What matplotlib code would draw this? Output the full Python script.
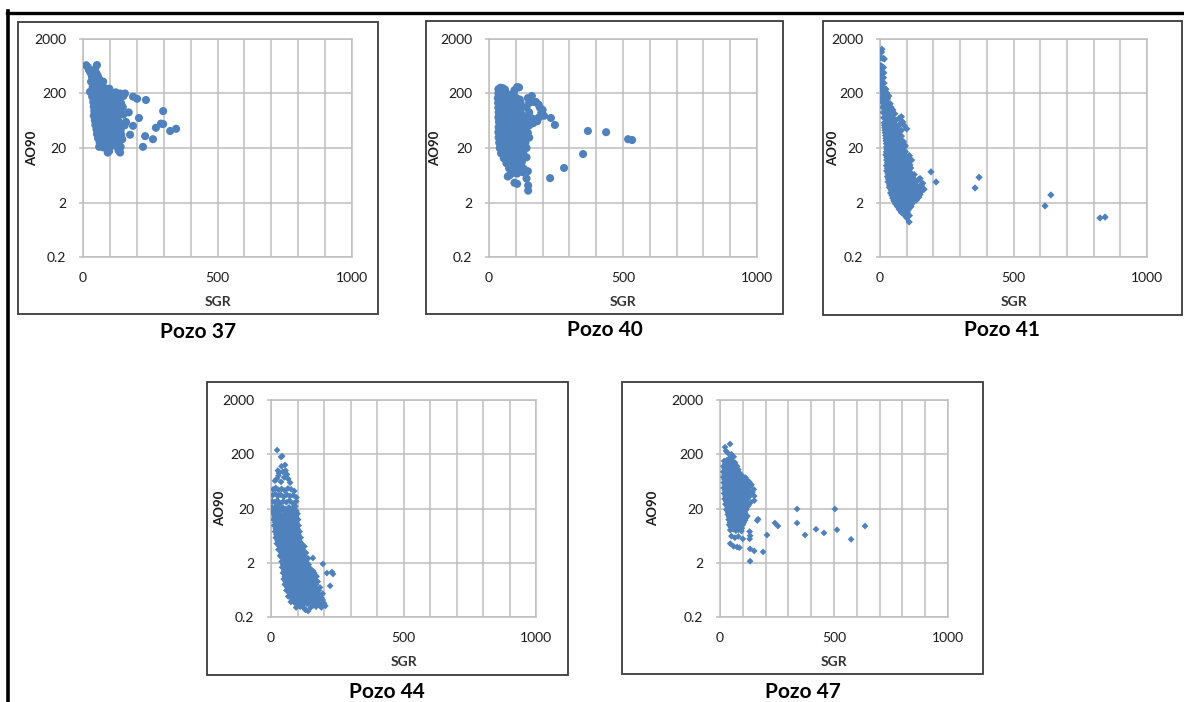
import numpy as np
import matplotlib
matplotlib.use("Agg")
import matplotlib.pyplot as plt
from matplotlib.patches import Rectangle
from matplotlib.lines import Line2D
from matplotlib.ticker import FixedLocator, FixedFormatter, NullLocator

plt.rcParams["font.family"] = ["Lato", "DejaVu Sans"]

# ------------------------------------------------------------
# Datos (SGR, AO90)
# ------------------------------------------------------------
pozo37 = [
    (12, 660), (18, 610), (52, 665), (22, 540), (28, 480), (45, 560), (50, 470),
    (33, 410), (42, 390), (55, 420), (60, 370),
    (30, 330), (40, 310), (52, 320), (64, 300), (75, 330),
    (36, 265), (50, 255), (66, 260), (82, 250), (98, 245),
    (26, 215), (38, 205), (55, 210), (72, 200), (90, 215), (108, 205), (122, 210), (138, 200),
    (34, 175), (50, 170), (67, 165), (84, 175), (102, 168), (118, 172), (135, 165), (150, 180),
    (38, 140), (55, 145), (72, 138), (90, 142), (108, 135), (126, 140), (142, 132),
    (40, 115), (58, 118), (76, 112), (94, 116), (112, 110), (130, 118), (148, 112),
    (42, 95), (60, 92), (78, 98), (96, 90), (114, 95), (132, 92),
    (40, 78), (58, 80), (76, 75), (94, 78), (112, 80), (130, 76), (150, 82),
    (44, 64), (62, 62), (80, 66), (98, 62), (116, 65), (134, 60),
    (46, 53), (64, 55), (82, 52), (100, 54), (118, 51), (136, 55), (155, 52),
    (50, 44), (68, 45), (86, 43), (104, 46), (122, 44), (140, 42),
    (52, 36), (70, 37), (88, 35), (106, 38), (124, 36), (142, 35),
    (56, 30), (74, 31), (92, 29), (110, 30), (128, 31), (146, 29),
    (62, 25), (80, 24), (98, 26), (116, 25), (134, 24),
    (60, 21), (75, 20.5), (100, 21), (120, 22), (140, 21),
    (92, 16.5), (97, 17.5), (138, 16.5), (132, 18),
    (156, 200), (186, 175), (201, 160), (234, 152), (298, 95), (208, 71),
    (186, 51), (298, 55), (290, 56), (271, 47), (324, 41), (346, 45),
    (231, 33), (260, 29), (223, 21), (175, 35), (160, 60), (170, 90),
]

pozo40 = [
    (35, 240), (42, 255), (52, 250), (60, 235), (105, 262), (112, 258), (95, 230),
    (35, 200), (48, 205), (62, 195), (78, 190), (92, 200),
    (33, 165), (46, 170), (60, 160), (74, 168), (88, 160), (102, 165), (115, 155), (145, 165),
    (34, 135), (48, 138), (62, 130), (76, 136), (90, 132), (104, 128), (118, 135),
    (150, 135), (165, 140), (185, 125),
    (35, 110), (48, 112), (62, 106), (76, 112), (90, 108), (104, 114), (118, 105),
    (140, 112), (190, 110), (200, 100),
    (36, 90), (50, 92), (64, 88), (78, 94), (92, 88), (106, 92), (120, 86), (150, 90), (195, 88),
    (35, 73), (49, 75), (63, 71), (77, 76), (91, 72), (105, 74), (119, 70),
    (145, 75), (160, 70), (185, 72), (205, 78),
    (37, 60), (51, 62), (65, 58), (79, 61), (93, 59), (107, 62), (121, 57),
    (140, 60), (165, 57), (180, 62),
    (36, 48), (50, 50), (64, 47), (78, 49), (92, 46), (106, 50), (120, 47), (134, 49), (150, 52),
    (35, 39), (49, 40), (63, 38), (77, 41), (91, 37), (105, 40), (119, 38), (133, 41), (145, 38),
    (36, 31), (50, 32), (64, 30), (78, 33), (92, 31), (106, 30), (120, 32), (134, 30), (150, 31),
    (38, 25), (52, 26), (66, 24), (80, 26), (94, 25), (108, 24), (122, 26), (136, 25),
    (40, 20), (54, 21), (68, 19.5), (82, 20), (96, 21), (110, 19), (124, 20), (140, 20),
    (45, 16), (58, 16.5), (72, 15.5), (86, 16), (100, 16.5), (114, 15.5), (128, 16),
    (55, 13), (70, 12.5), (84, 13), (98, 12.8), (112, 13), (126, 12.5), (140, 13.5),
    (65, 10.5), (80, 10), (94, 10.6), (108, 10.2), (122, 10.8),
    (75, 8.5), (90, 8.2), (104, 8.6), (118, 8.8), (130, 8.3),
    (90, 7), (105, 6.8), (125, 7.2), (145, 7.5),
    (78, 6.4), (95, 4.6), (105, 4.4), (146, 4.1), (146, 3.3), (140, 5.5), (70, 6.0),
    (160, 180), (175, 140), (231, 71), (246, 53), (369, 41), (437, 39),
    (519, 29), (534, 28), (351, 15.5), (280, 8.6), (228, 5.6),
]

pozo41 = [
    (7, 1300), (6, 1150), (4, 900), (12, 880), (16, 860),
    (3, 650), (8, 620), (13, 600), (4, 520), (9, 500), (14, 480),
    (3, 420), (8, 400), (13, 390), (4, 330), (9, 320), (15, 310),
    (4, 265), (10, 255), (16, 250), (22, 240),
    (5, 215), (11, 205), (18, 200), (25, 205),
    (6, 170), (13, 165), (20, 168), (28, 160), (33, 180),
    (8, 140), (15, 135), (22, 138), (30, 132), (38, 130),
    (10, 112), (17, 108), (25, 110), (33, 105), (41, 112), (48, 100),
    (12, 90), (20, 88), (28, 92), (36, 86), (44, 90), (55, 85),
    (14, 72), (22, 70), (30, 74), (38, 68), (46, 72), (60, 65), (72, 70), (80, 75),
    (16, 58), (24, 56), (32, 60), (40, 55), (48, 58), (56, 54), (75, 55), (85, 60),
    (17, 52), (28, 51), (36, 53), (44, 50), (52, 52), (65, 50), (90, 52),
    (18, 47), (26, 45), (34, 48), (42, 44), (50, 47), (58, 43), (66, 46), (80, 42), (100, 45),
    (19, 42), (30, 41), (38, 43), (46, 40), (54, 42), (62, 40), (72, 41),
    (20, 38), (28, 36), (36, 39), (44, 35), (52, 38), (60, 35), (70, 37), (80, 33),
    (21, 34), (32, 33), (40, 34.5), (48, 32), (56, 34), (64, 32), (75, 33.5),
    (22, 30), (30, 29), (38, 31), (46, 28), (54, 30), (62, 28), (70, 30), (82, 27),
    (23, 27), (34, 26), (42, 27.5), (50, 25.5), (58, 27), (66, 25.5), (76, 27), (88, 26),
    (24, 24), (32, 23), (40, 25), (48, 22), (56, 24), (64, 22), (72, 24), (84, 25), (95, 22),
    (25, 21), (36, 20.5), (44, 21.5), (52, 20), (60, 21), (68, 20), (78, 21), (90, 20.5),
    (26, 19), (34, 18.5), (42, 20), (50, 18), (58, 19), (66, 17.5), (74, 19), (85, 18),
    (24, 17), (30, 16.5), (38, 17.2), (46, 16.2), (54, 17), (62, 16), (70, 16.8), (80, 16.2), (95, 17),
    (22, 15), (30, 14.5), (38, 15.5), (46, 14), (54, 15), (62, 14.2), (70, 15.5),
    (80, 14), (90, 15), (110, 14.5),
    (26, 13.5), (34, 13), (42, 13.8), (50, 12.8), (58, 13.4), (66, 12.9), (76, 13.6), (86, 13), (100, 13.2),
    (25, 12), (33, 11.5), (41, 12.3), (49, 11.2), (57, 12), (65, 11.5), (73, 12.2),
    (82, 11), (92, 12), (118, 12),
    (28, 10.7), (36, 10.4), (44, 10.9), (52, 10.2), (60, 10.7), (68, 10.3), (76, 10.8),
    (86, 10.3), (96, 10.6), (108, 10.8),
    (24, 9.5), (32, 9.2), (40, 9.8), (48, 9), (56, 9.6), (64, 9.1), (72, 9.7),
    (80, 9), (90, 9.5), (100, 9.2), (112, 9.8),
    (28, 8.5), (36, 8.3), (44, 8.7), (52, 8.1), (60, 8.6), (68, 8.2), (76, 8.6),
    (86, 8.2), (95, 8.5), (105, 8.3), (115, 8.6),
    (25, 7.6), (33, 7.3), (41, 7.8), (49, 7.2), (57, 7.7), (65, 7.2), (73, 7.8),
    (81, 7.3), (90, 7.6), (100, 7.2), (110, 7.5),
    (30, 6.8), (38, 6.6), (46, 6.9), (54, 6.5), (62, 6.8), (70, 6.5), (78, 6.9),
    (88, 6.5), (96, 6.8), (106, 6.6), (116, 6.8), (128, 6.5),
    (28, 6), (36, 5.8), (44, 6.2), (52, 5.7), (60, 6.1), (68, 5.8), (76, 6.2),
    (84, 5.7), (92, 6), (102, 5.8), (112, 6.1), (122, 5.9), (150, 5.5),
    (32, 5.4), (40, 5.2), (48, 5.5), (56, 5.1), (64, 5.4), (72, 5.2), (80, 5.5),
    (88, 5.1), (98, 5.4), (108, 5.2), (118, 5.5), (130, 5.2), (145, 5.3),
    (30, 4.8), (38, 4.6), (46, 4.9), (54, 4.5), (62, 4.8), (70, 4.6), (78, 4.9),
    (86, 4.5), (94, 4.8), (104, 4.6), (114, 4.9), (126, 4.7), (140, 5), (160, 4.5),
    (36, 4.2), (44, 4.1), (52, 4.3), (60, 4.0), (68, 4.2), (76, 4.1), (84, 4.3),
    (92, 4.0), (102, 4.2), (112, 4.1), (122, 4.3), (134, 4.1), (155, 4.2),
    (35, 3.8), (43, 3.6), (51, 3.9), (59, 3.6), (67, 3.8), (75, 3.6), (83, 3.9),
    (91, 3.6), (100, 3.8), (110, 3.6), (120, 3.9), (132, 3.7), (150, 4.0), (165, 3.5),
    (42, 3.4), (50, 3.3), (58, 3.45), (66, 3.25), (74, 3.4), (82, 3.3), (90, 3.45),
    (100, 3.25), (110, 3.4), (120, 3.3), (130, 3.4), (145, 3.3), (160, 3.6),
    (40, 3), (48, 2.9), (56, 3.1), (64, 2.85), (72, 3), (80, 2.9), (88, 3.1),
    (96, 2.85), (105, 3), (115, 2.9), (125, 3.1), (138, 3), (155, 3.2),
    (45, 2.7), (52, 2.65), (60, 2.75), (68, 2.6), (76, 2.7), (84, 2.65), (92, 2.75),
    (100, 2.6), (110, 2.7), (120, 2.65), (132, 2.7), (150, 2.8),
    (48, 2.4), (56, 2.3), (64, 2.45), (72, 2.3), (80, 2.4), (88, 2.3), (96, 2.45),
    (105, 2.3), (115, 2.4), (127, 2.35), (145, 2.5),
    (52, 2.15), (60, 2.1), (68, 2.2), (76, 2.1), (84, 2.15), (92, 2.1), (100, 2.2),
    (110, 2.1), (120, 2.15), (135, 2.2),
    (58, 1.9), (66, 1.85), (74, 1.95), (82, 1.8), (90, 1.9), (100, 1.85), (110, 1.95), (120, 1.9),
    (65, 1.7), (75, 1.65), (86, 1.72), (96, 1.65), (106, 1.7), (116, 1.68),
    (72, 1.5), (82, 1.45), (95, 1.5), (105, 1.45),
    (80, 1.32), (92, 1.3), (102, 1.33),
    (90, 1.2), (110, 1.15), (109, 0.88), (100, 1.05),
    (191, 7.3), (210, 4.75), (371, 5.8), (356, 3.7), (640, 2.75), (618, 1.73),
    (824, 1.04), (843, 1.08),
]

pozo44 = [
    (23, 239), (38, 178), (42, 185), (53, 127), (26, 100), (28, 80), (40, 120),
    (15, 65), (22, 70), (30, 90), (45, 95), (55, 100), (60, 85), (50, 75), (38, 62), (65, 70), (72, 60),
    (8, 45), (18, 48), (28, 44), (40, 46), (52, 43), (64, 47), (76, 45), (88, 42),
    (6, 35), (16, 37), (26, 34), (36, 36), (48, 33), (60, 36), (72, 34), (84, 35), (96, 32),
    (5, 27), (14, 26), (24, 28), (34, 25), (46, 27), (58, 26), (70, 28), (82, 25), (95, 27),
    (4, 21), (12, 20), (22, 22), (32, 20), (44, 21), (56, 19.5), (68, 21), (80, 20), (92, 22),
    (6, 18), (16, 18.5), (26, 17.5), (36, 18), (48, 18.5), (60, 17.5), (72, 18), (84, 18.5), (96, 18),
    (8, 16), (18, 15.5), (28, 16.5), (40, 15), (52, 16), (64, 15.5), (76, 16.5), (88, 15), (100, 16),
    (14, 14), (24, 14.2), (34, 13.8), (46, 14), (58, 14.3), (70, 13.8), (82, 14), (94, 14.2),
    (10, 12.5), (20, 12), (30, 13), (42, 12), (54, 12.5), (66, 12), (78, 13), (90, 12.2), (102, 12.5),
    (16, 11), (26, 10.8), (36, 11.2), (48, 10.9), (60, 11), (72, 10.8), (84, 11.2), (96, 11),
    (12, 9.7), (22, 9.4), (32, 10), (44, 9.3), (56, 9.8), (68, 9.3), (80, 9.8), (92, 9.4), (104, 9.7),
    (18, 8.5), (30, 8.4), (40, 8.6), (52, 8.3), (64, 8.5), (76, 8.4), (88, 8.6), (100, 8.4),
    (15, 7.5), (25, 7.2), (35, 7.7), (47, 7.2), (59, 7.6), (71, 7.2), (83, 7.7), (95, 7.3), (108, 7.5),
    (20, 6.6), (32, 6.5), (42, 6.7), (55, 6.4), (67, 6.6), (79, 6.5), (91, 6.7), (104, 6.5),
    (18, 5.8), (28, 5.6), (38, 6), (50, 5.6), (62, 5.9), (74, 5.6), (86, 5.9), (98, 5.6), (112, 5.8),
    (25, 5.1), (36, 5.0), (47, 5.2), (59, 4.9), (71, 5.1), (83, 5.0), (95, 5.2), (108, 5.0),
    (22, 4.5), (32, 4.3), (42, 4.6), (54, 4.3), (66, 4.5), (78, 4.3), (90, 4.6), (102, 4.4), (115, 4.5),
    (32, 4.0), (43, 3.9), (54, 4.1), (66, 3.9), (78, 4.0), (90, 3.9), (102, 4.1), (114, 3.9), (126, 4.0),
    (28, 3.5), (38, 3.4), (48, 3.6), (60, 3.3), (72, 3.5), (84, 3.4), (96, 3.6), (108, 3.4), (120, 3.5),
    (38, 3.1), (49, 3.0), (60, 3.15), (72, 3.0), (84, 3.1), (96, 3.0), (108, 3.15), (120, 3.0), (132, 3.05),
    (34, 2.7), (44, 2.6), (54, 2.8), (66, 2.6), (78, 2.7), (90, 2.6), (102, 2.8), (114, 2.6), (126, 2.7),
    (44, 2.4), (56, 2.35), (68, 2.45), (80, 2.35), (92, 2.4), (104, 2.35), (116, 2.45), (128, 2.35), (140, 2.4),
    (40, 2.1), (50, 2.0), (60, 2.15), (72, 2.0), (84, 2.1), (96, 2.0), (108, 2.15), (120, 2.0), (132, 2.1),
    (46, 1.85), (58, 1.8), (70, 1.9), (82, 1.8), (94, 1.85), (106, 1.8), (118, 1.9), (130, 1.8), (142, 1.85),
    (42, 1.65), (52, 1.6), (62, 1.7), (74, 1.6), (86, 1.65), (98, 1.6), (110, 1.7), (122, 1.6),
    (134, 1.65), (146, 1.6),
    (50, 1.45), (62, 1.42), (74, 1.48), (86, 1.42), (98, 1.45), (110, 1.42), (122, 1.48), (134, 1.42),
    (146, 1.45), (158, 1.42),
    (45, 1.3), (55, 1.25), (65, 1.32), (77, 1.25), (89, 1.3), (101, 1.25), (113, 1.32), (125, 1.25),
    (137, 1.3), (150, 1.28), (163, 1.3),
    (52, 1.12), (64, 1.1), (76, 1.14), (88, 1.1), (100, 1.12), (112, 1.1), (124, 1.14), (136, 1.1),
    (148, 1.12), (160, 1.1), (172, 1.12),
    (48, 1.0), (58, 0.97), (68, 1.02), (80, 0.97), (92, 1.0), (104, 0.97), (116, 1.02), (128, 0.97),
    (140, 1.0), (152, 0.98), (165, 1.0),
    (56, 0.9), (68, 0.88), (80, 0.92), (92, 0.88), (104, 0.9), (116, 0.88), (128, 0.92), (140, 0.88),
    (152, 0.9), (164, 0.88), (176, 0.9),
    (52, 0.8), (62, 0.77), (72, 0.82), (84, 0.77), (96, 0.8), (108, 0.77), (120, 0.82), (132, 0.77),
    (144, 0.8), (156, 0.78), (170, 0.8),
    (62, 0.7), (74, 0.68), (86, 0.72), (98, 0.68), (110, 0.7), (122, 0.68), (134, 0.72), (146, 0.68),
    (158, 0.7), (170, 0.68), (185, 0.7),
    (58, 0.62), (70, 0.6), (82, 0.64), (94, 0.6), (106, 0.62), (118, 0.6), (130, 0.64), (142, 0.6),
    (154, 0.62), (166, 0.6), (180, 0.62),
    (70, 0.55), (82, 0.53), (94, 0.56), (106, 0.53), (118, 0.55), (130, 0.53), (142, 0.56), (154, 0.53),
    (166, 0.55), (180, 0.53), (195, 0.54),
    (65, 0.48), (77, 0.46), (89, 0.49), (101, 0.46), (113, 0.48), (125, 0.46), (137, 0.49), (149, 0.46),
    (161, 0.48), (175, 0.46), (190, 0.45),
    (80, 0.43), (93, 0.42), (106, 0.44), (120, 0.42), (134, 0.43), (148, 0.41), (162, 0.43),
    (178, 0.42), (195, 0.41),
    (75, 0.38), (88, 0.37), (100, 0.39), (115, 0.37), (128, 0.38), (142, 0.36), (156, 0.38),
    (170, 0.37), (185, 0.37), (200, 0.36),
    (100, 0.34), (118, 0.33), (136, 0.35), (160, 0.33), (180, 0.34), (198, 0.34),
    (95, 0.3), (110, 0.31), (125, 0.29), (150, 0.3), (170, 0.31), (190, 0.3), (205, 0.32),
    (140, 0.258), (130, 0.27),
    (158, 2.45), (196, 1.9), (211, 1.29), (230, 1.35), (234, 1.24), (223, 0.75),
]

pozo47 = [
    (44, 309), (22, 270), (26, 230), (35, 210), (50, 200), (60, 180), (45, 175),
    (18, 150), (30, 155), (42, 145), (54, 150), (66, 140),
    (24, 135), (36, 138), (48, 132), (60, 136),
    (15, 120), (27, 125), (39, 118), (51, 122), (63, 115), (75, 120),
    (20, 108), (32, 110), (44, 106), (56, 108), (68, 105), (80, 104),
    (14, 95), (26, 98), (38, 92), (50, 96), (62, 90), (74, 94), (86, 90),
    (20, 85), (32, 86), (44, 83), (56, 85), (68, 82), (80, 84), (94, 82),
    (14, 76), (26, 78), (38, 74), (50, 77), (62, 72), (74, 76), (86, 73), (100, 78), (112, 74),
    (20, 68), (32, 69), (44, 66), (56, 68), (68, 65), (80, 67), (94, 65), (106, 68), (120, 66),
    (16, 60), (28, 62), (40, 58), (52, 61), (64, 57), (76, 60), (88, 57), (100, 61), (115, 58), (128, 62),
    (22, 54), (34, 55), (46, 53), (58, 55), (70, 52), (82, 54), (94, 52), (108, 55), (122, 53), (138, 55),
    (16, 48), (28, 50), (40, 47), (52, 49), (64, 46), (76, 49), (88, 46), (100, 48), (115, 47),
    (130, 50), (148, 45),
    (22, 43), (34, 44), (46, 42), (58, 43), (70, 41), (82, 43), (94, 41), (108, 43), (125, 42), (142, 40),
    (18, 38), (30, 39), (42, 37), (54, 39), (66, 36), (78, 38), (90, 36), (102, 38), (116, 36),
    (135, 37), (150, 34),
    (24, 34), (36, 34.5), (48, 33), (60, 34), (72, 32.5), (84, 34), (96, 32.5), (110, 33.5), (128, 33),
    (20, 30), (32, 31), (44, 29), (56, 31), (68, 29), (80, 30), (92, 28), (104, 30), (120, 31), (150, 28),
    (28, 27), (40, 27.5), (52, 26.5), (64, 27.5), (76, 26.5), (88, 27), (100, 26), (115, 27.5), (135, 26),
    (24, 24), (36, 25), (48, 23), (60, 25), (72, 23), (84, 24), (96, 23), (110, 25), (125, 23),
    (32, 21.5), (44, 22), (56, 21), (68, 22), (80, 21), (92, 21.5), (104, 21), (120, 21.5),
    (28, 19), (40, 20), (52, 18.5), (64, 19.5), (76, 18.5), (88, 19.5), (100, 18), (115, 19),
    (36, 17), (48, 17.5), (60, 16.8), (72, 17.2), (84, 16.8), (96, 17), (110, 16.5),
    (34, 15.5), (46, 16), (58, 15), (70, 15.8), (82, 15), (94, 15.5), (106, 15), (120, 14.5),
    (40, 14), (52, 14.2), (64, 13.8), (76, 14), (88, 13.6), (100, 14), (114, 13.5),
    (38, 12.5), (50, 13), (62, 12.2), (74, 12.8), (86, 12), (98, 12.5), (110, 12.2), (163, 12), (167, 12.7),
    (44, 11), (56, 11.3), (68, 10.8), (80, 11.1), (92, 10.7), (104, 11),
    (40, 10), (52, 10.4), (64, 9.8), (76, 10.2), (88, 9.7), (100, 10),
    (48, 9), (60, 9.2), (72, 8.8), (84, 9), (96, 8.7),
    (45, 8), (58, 8.3), (70, 7.8), (82, 8.1), (94, 7.7), (130, 7.5),
    (50, 6.2), (65, 5.8), (80, 6.1), (100, 5.5), (130, 5.5), (132, 6.3),
    (45, 4.5), (60, 4.0), (75, 3.9), (85, 3.8), (132, 3.6), (150, 3.3), (189, 3.17), (132, 2.14),
    (206, 6.5), (241, 10.8), (254, 9.5), (338, 19.6), (338, 10.8), (373, 6.5), (421, 8.3),
    (456, 7.1), (504, 19.6), (513, 8.1), (575, 5.4), (636, 9.5),
]

y_ticks = [0.2, 2, 20, 200, 2000]
y_labels = ["0.2", "2", "20", "200", "2000"]
x_ticks = list(range(0, 1001, 100))
x_labels = ["0", "", "", "", "", "500", "", "", "", "", "1000"]

# ------------------------------------------------------------
# Layout (pixel coordinates on a 1184x702 canvas)
# ------------------------------------------------------------
W, H = 1184, 702
BLUE = "#4F81BD"
GRID = "#BFBFBF"

panels = [
    # title, data, axes box, outer frame, title pos, ylabel offset, marker, size
    ("Pozo 37", pozo37, (83, 39, 352, 257), (18, 22, 378, 314), (198, 332), 51, "o", 34),
    ("Pozo 40", pozo40, (489, 39, 757, 257), (426, 21, 783, 314), (605, 330), 54, "o", 34),
    ("Pozo 41", pozo41, (880, 39, 1147, 257), (823, 21, 1182, 315), (1002, 330), 47, "D", 14),
    ("Pozo 44", pozo44, (271, 400, 536, 617), (207, 382, 568, 675), (387, 692), 51, "D", 12),
    ("Pozo 47", pozo47, (720, 400, 948, 617), (622, 382, 983, 674), (803, 692), 67, "D", 12),
]


def fig_rect(x0, y0, x1, y1):
    return [x0 / W, 1 - y1 / H, (x1 - x0) / W, (y1 - y0) / H]


fig = plt.figure(figsize=(W / 100, H / 100), dpi=100)
fig.patch.set_facecolor("white")

# black page frame (top and left)
fig.add_artist(Line2D([7 / W, 1], [1 - 12.5 / H, 1 - 12.5 / H], color="black", lw=2.4,
                      transform=fig.transFigure))
fig.add_artist(Line2D([8 / W, 8 / W], [0, 1 - 11 / H], color="black", lw=2.6,
                      transform=fig.transFigure))

for title, data, ab, fb, tpos, ydx, marker, msize in panels:
    fx0, fy0, fx1, fy1 = fb
    fig.add_artist(Rectangle((fx0 / W, 1 - fy1 / H), (fx1 - fx0) / W, (fy1 - fy0) / H,
                             transform=fig.transFigure, fill=False,
                             edgecolor="#3a3a3a", lw=1.3))

    ax = fig.add_axes(fig_rect(*ab))
    pts = np.array(data, dtype=float)
    ax.scatter(pts[:, 0], pts[:, 1], s=msize, marker=marker, color=BLUE,
               edgecolors="none", zorder=3)

    ax.set_yscale("log")
    ax.set_xlim(0, 1000)
    ax.set_ylim(0.2, 2000)
    ax.yaxis.set_major_locator(FixedLocator(y_ticks))
    ax.yaxis.set_major_formatter(FixedFormatter(y_labels))
    ax.yaxis.set_minor_locator(NullLocator())
    ax.xaxis.set_major_locator(FixedLocator(x_ticks))
    ax.xaxis.set_major_formatter(FixedFormatter(x_labels))

    ax.set_axisbelow(True)
    ax.grid(True, color=GRID, lw=1.1)
    for sp in ax.spines.values():
        sp.set_color(GRID)
        sp.set_linewidth(1.1)
    ax.tick_params(axis="y", length=3, width=1.1, color=GRID, pad=9,
                   labelsize=10, labelcolor="#1a1a1a")
    ax.tick_params(axis="x", length=0, pad=11, labelsize=10, labelcolor="#1a1a1a")

    wpx = ab[2] - ab[0]
    hpx = ab[3] - ab[1]
    ax.text(-ydx / wpx, 0.5, "AO90", rotation=90, ha="center", va="center",
            transform=ax.transAxes, fontsize=9.5, fontweight="bold", color="#1a1a1a")
    ax.text(0.5, -45 / hpx, "SGR", ha="center", va="center",
            transform=ax.transAxes, fontsize=10, fontweight="bold", color="#333333")

    fig.text(tpos[0] / W, 1 - tpos[1] / H, title, ha="center", va="center",
             fontsize=15, fontweight="bold", color="black")

fig.savefig("out.png", dpi=100)
